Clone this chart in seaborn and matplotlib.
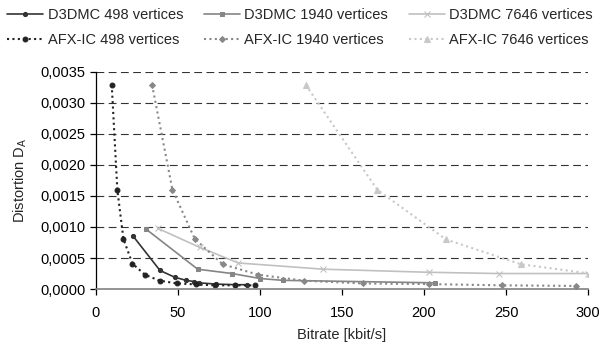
"""
Distortion vs bitrate: D3DMC vs AFX-IC for three mesh resolutions.
"""

import matplotlib
matplotlib.use("Agg")
import matplotlib.pyplot as plt
import seaborn as sns
from matplotlib.ticker import FuncFormatter, MultipleLocator

# --- data ------------------------------------------------------------------
d3dmc_498_x = [22.7, 39, 48, 55, 60, 63, 73, 85, 92]
d3dmc_498_y = [0.00085, 0.00030, 0.00019, 0.00014, 0.00012, 0.00010, 0.00008, 0.00007, 0.00007]

d3dmc_1940_x = [30.3, 62, 83, 100, 114, 207]
d3dmc_1940_y = [0.00097, 0.00032, 0.00025, 0.00017, 0.00014, 0.00010]

d3dmc_7646_x = [37.5, 63.4, 86.8, 138.6, 203, 245.7, 300]
d3dmc_7646_y = [0.00098, 0.00067, 0.00042, 0.00032, 0.00027, 0.00025, 0.00025]

afx_498_x = [9.6, 13, 16.7, 22.2, 29.9, 38.8, 49.5, 60.8, 72.6, 84.8, 97]
afx_498_y = [0.00329, 0.00160, 0.00081, 0.00041, 0.00023, 0.000135, 0.00009,
             0.000075, 0.00006, 0.00006, 0.00006]

afx_1940_x = [34.2, 46.6, 60.2, 77.2, 99, 126.8, 163, 203, 247.4, 292.5]
afx_1940_y = [0.00329, 0.00160, 0.00081, 0.00040, 0.00023, 0.000135, 0.00009,
              0.00008, 0.00006, 0.00005]

afx_7646_x = [127.9, 171.5, 213.4, 259, 301]
afx_7646_y = [0.00329, 0.00160, 0.00080, 0.00040, 0.00025]

labels = ["D3DMC 498 vertices", "D3DMC 1940 vertices", "D3DMC 7646 vertices",
          "AFX-IC 498 vertices", "AFX-IC 1940 vertices", "AFX-IC 7646 vertices"]

sns.set_style("white")
plt.rcParams["font.family"] = ["Liberation Sans", "DejaVu Sans"]
plt.rcParams["mathtext.fontset"] = "custom"
plt.rcParams["mathtext.rm"] = "Liberation Sans"

FS = 10.5

fig = plt.figure(figsize=(6.0, 3.47), dpi=100)
ax = fig.add_axes([0.16, 0.167, 0.82, 0.626])

dot = (0, (1.0, 1.6))
series = [
    (d3dmc_498_x, d3dmc_498_y, "#333333", "o", 3.0, "-"),
    (d3dmc_1940_x, d3dmc_1940_y, "#858585", "s", 3.0, "-"),
    (d3dmc_7646_x, d3dmc_7646_y, "#c0c0c0", "x", 4.0, "-"),
    (afx_498_x, afx_498_y, "#222222", "o", 3.5, dot),
    (afx_1940_x, afx_1940_y, "#888888", "D", 3.0, dot),
    (afx_7646_x, afx_7646_y, "#c8c8c8", "^", 4.0, dot),
]

handles = []
for (xs, ys, col, mk, ms, ls), lab in zip(series, labels):
    sns.lineplot(x=xs, y=ys, ax=ax, sort=False, color=col, marker=mk,
                 markersize=ms, markeredgecolor=col, linestyle=ls,
                 linewidth=1.5 if ls != "-" else 1.2, label=lab, legend=False)
    handles.append(ax.lines[-1])

ax.set_xlim(0, 300)
ax.set_ylim(0, 0.0035)
ax.xaxis.set_major_locator(MultipleLocator(50))
ax.yaxis.set_major_locator(MultipleLocator(0.0005))
ax.yaxis.set_major_formatter(FuncFormatter(lambda v, p: f"{v:.4f}".replace(".", ",")))

for yv in [0.0005 * i for i in range(1, 8)]:
    ax.axhline(yv, color="#333333", linestyle=(0, (7, 4)), linewidth=0.8, zorder=0)

for s in ["top", "right"]:
    ax.spines[s].set_visible(False)
ax.spines["left"].set_color("black")
ax.spines["left"].set_linewidth(0.9)
ax.spines["bottom"].set_color("#808080")
ax.spines["bottom"].set_linewidth(1.2)
ax.tick_params(axis="both", direction="out", length=4, width=0.9,
               labelsize=FS, colors="black", bottom=True, left=True)
ax.tick_params(axis="x", pad=8)

ax.set_xlabel("Bitrate [kbit/s]", fontsize=FS, labelpad=6)
ax.set_ylabel(r"Distortion D$_\mathrm{A}$", fontsize=FS, labelpad=8)

# legend is filled column by column, so interleave to get two rows
order = [0, 3, 1, 4, 2, 5]
fig.legend([handles[i] for i in order], [labels[i] for i in order],
           loc="upper center", bbox_to_anchor=(0.5, 1.015),
           ncol=3, frameon=False, fontsize=FS, handlelength=2.5,
           columnspacing=1.4, handletextpad=0.3, labelspacing=0.75)

plt.savefig("out.png", dpi=100)
plt.close()
